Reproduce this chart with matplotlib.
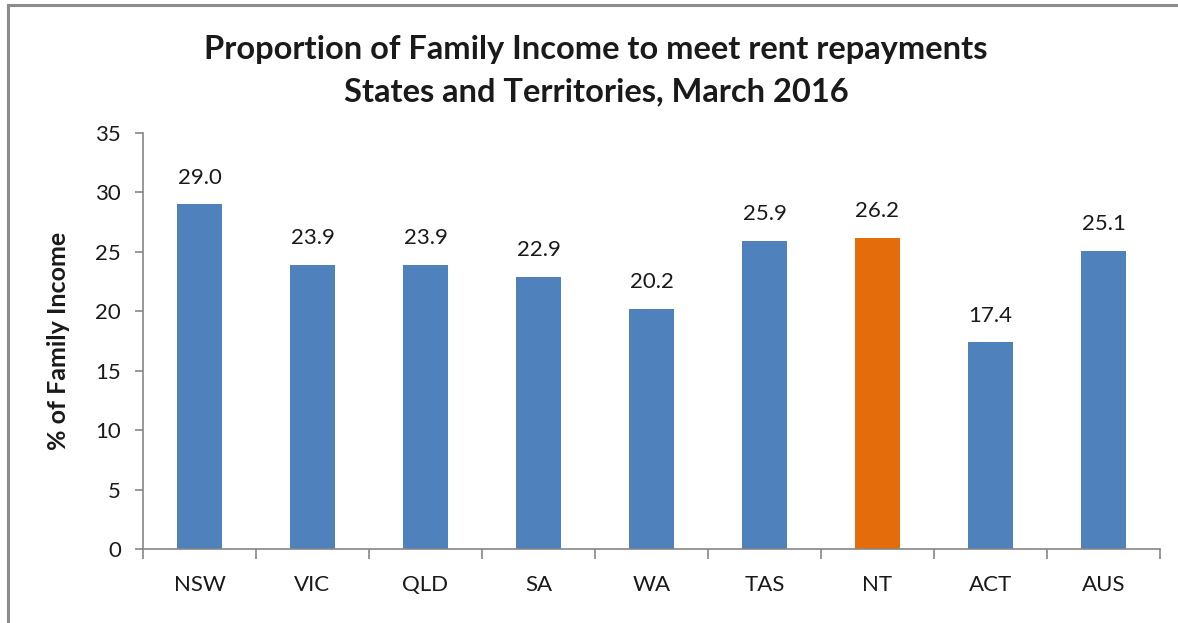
import matplotlib
matplotlib.use("Agg")
import matplotlib.pyplot as plt
from matplotlib.lines import Line2D
import numpy as np

categories = ["NSW", "VIC", "QLD", "SA", "WA", "TAS", "NT", "ACT", "AUS"]
values = [29.0, 23.9, 23.9, 22.9, 20.2, 25.9, 26.2, 17.4, 25.1]
highlight = "NT"
y_ticks = [0, 5, 10, 15, 20, 25, 30, 35]
title_lines = ["Proportion of Family Income to meet rent repayments",
               "States and Territories, March 2016"]
y_label = "% of Family Income"

BLUE = "#4F81BD"
ORANGE = "#E46C0A"
GRAY = "#868686"

plt.rcParams['font.family'] = ['Lato', 'DejaVu Sans']

fig = plt.figure(figsize=(11.78, 6.23), dpi=100)
fig.patch.set_facecolor("white")
ax = fig.add_axes([143/1178, 1 - 549/623, (1160-143)/1178, (549-133)/623])

x = np.arange(len(categories))
colors = [ORANGE if c == highlight else BLUE for c in categories]
bars = ax.bar(x, values, width=0.4, color=colors, zorder=2)

for xi, v in zip(x, values):
    ax.annotate(f"{v:.1f}", (xi, v), xytext=(0, 12), textcoords="offset points",
                ha="center", va="bottom", fontsize=16, color="#1a1a1a")

ax.set_xlim(-0.5, len(categories) - 0.5)
ax.set_ylim(0, 35)
ax.set_yticks(y_ticks)
ax.set_yticklabels([str(t) for t in y_ticks], fontsize=16, color="#1a1a1a")
ax.set_xticks(x)
ax.set_xticklabels(categories, fontsize=16, color="#1a1a1a")
ax.set_xticks(np.arange(-0.5, len(categories), 1.0), minor=True)

ax.tick_params(axis="x", which="major", length=0, pad=19)
ax.tick_params(axis="x", which="minor", length=7, width=1.2, color=GRAY, direction="out")
ax.tick_params(axis="y", which="major", length=6, width=1.2, color=GRAY, direction="out", pad=10)

for s in ["top", "right"]:
    ax.spines[s].set_visible(False)
for s in ["left", "bottom"]:
    ax.spines[s].set_color(GRAY)
    ax.spines[s].set_linewidth(1.2)

ax.set_ylabel(y_label, fontsize=18, fontweight="bold", color="#1a1a1a")
ax.yaxis.set_label_coords(-0.072, 0.5)

fig.text(596/1178, 1 - 50/623, title_lines[0], ha="center", va="center",
         fontsize=23.5, fontweight="bold", color="#1a1a1a")
fig.text(596/1178, 1 - 92/623, title_lines[1], ha="center", va="center",
         fontsize=23.5, fontweight="bold", color="#1a1a1a")

# outer frame (top and left edges visible)
fig.add_artist(Line2D([8/1178, 8/1178], [0, 1 - 5/623], transform=fig.transFigure,
                      color="#8c8c8c", linewidth=2.2))
fig.add_artist(Line2D([8/1178, 1], [1 - 5/623, 1 - 5/623], transform=fig.transFigure,
                      color="#8c8c8c", linewidth=2.2))

fig.savefig("out.png", dpi=100, facecolor="white")
